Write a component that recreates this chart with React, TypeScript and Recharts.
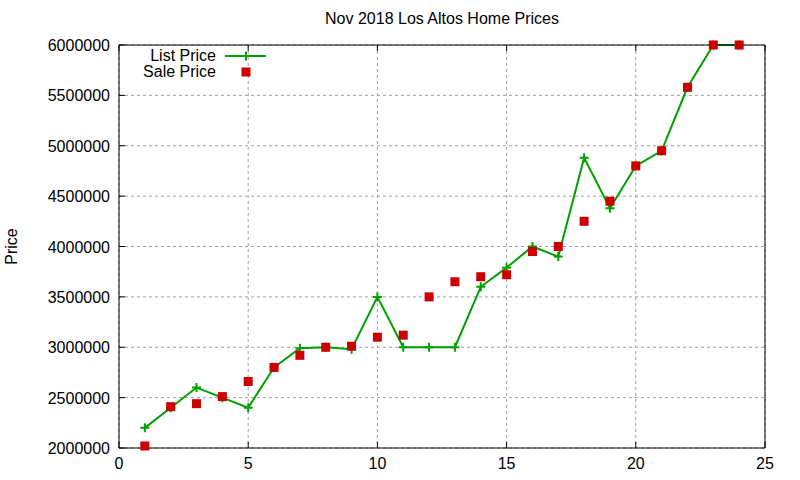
import React from "react";
import { ComposedChart, Line, XAxis, YAxis, CartesianGrid, Legend } from "recharts";

const days = [1, 2, 3, 4, 5, 6, 7, 8, 9, 10, 11, 12, 13, 14, 15, 16, 17, 18, 19, 20, 21, 22, 23, 24];
const listPrice = [
  2200000, 2400000, 2600000, 2500000, 2400000, 2800000, 2990000, 3000000, 2980000, 3500000, 3000000, 3000000,
  3000000, 3600000, 3790000, 4000000, 3900000, 4880000, 4380000, 4800000, 4950000, 5580000, 6000000, 6000000,
];
const salePrice = [
  2020000, 2410000, 2440000, 2510000, 2660000, 2800000, 2920000, 3000000, 3010000, 3100000, 3120000, 3500000,
  3650000, 3700000, 3720000, 3950000, 4000000, 4250000, 4450000, 4800000, 4950000, 5580000, 6000000, 6000000,
];
const xTicks = [0, 5, 10, 15, 20, 25];
const yTicks = [2000000, 2500000, 3000000, 3500000, 4000000, 4500000, 5000000, 5500000, 6000000];

const data = days.map((d, i) => ({ day: d, list: listPrice[i], sale: salePrice[i] }));

const GREEN = "#00a000";
const RED = "#cc0000";
const FONT = "'Liberation Sans', Arial, sans-serif";
const TICK_IN = 6;

function PlusDot(props: any) {
  const { cx, cy } = props;
  if (cx == null || cy == null) return null;
  return (
    <path d={`M${cx - 4.5},${cy}H${cx + 4.5}M${cx},${cy - 4.5}V${cy + 4.5}`} stroke={GREEN} strokeWidth={2} fill="none" />
  );
}

function SquareDot(props: any) {
  const { cx, cy } = props;
  if (cx == null || cy == null) return null;
  return <rect x={cx - 4.5} y={cy - 4.5} width={9} height={9} fill={RED} />;
}

function LeftTick(props: any) {
  const { x, y, payload } = props;
  return (
    <g>
      <line x1={x + 9} x2={x + 9 + TICK_IN} y1={y} y2={y} stroke="#000" />
      <text x={x} y={y} dy={6} textAnchor="end" fontSize={16} fill="#000" fontFamily={FONT}>
        {payload.value}
      </text>
    </g>
  );
}

function BottomTick(props: any) {
  const { x, y, payload } = props;
  return (
    <g>
      <line x1={x} x2={x} y1={y - 7} y2={y - 7 - TICK_IN} stroke="#000" />
      <text x={x} y={y} dy={14} textAnchor="middle" fontSize={16} fill="#000" fontFamily={FONT}>
        {payload.value}
      </text>
    </g>
  );
}

function LegendBox() {
  return (
    <svg width={160} height={38} style={{ display: "block" }}>
      <text x={96} y={14} textAnchor="end" fontSize={16} fontFamily={FONT} fill="#000">List Price</text>
      <line x1={105} x2={146} y1={9} y2={9} stroke={GREEN} strokeWidth={2} />
      <path d="M121.5,9H130.5M126,4.5V13.5" stroke={GREEN} strokeWidth={2} />
      <text x={96} y={30} textAnchor="end" fontSize={16} fontFamily={FONT} fill="#000">Sale Price</text>
      <rect x={121.5} y={20.5} width={9} height={9} fill={RED} />
    </svg>
  );
}

export default function App() {
  return (
    <div style={{ position: "relative", width: 800, height: 480, background: "#fff", fontFamily: FONT }}>
      <style>{`body{margin:0}`}</style>
      <div
        style={{
          position: "absolute",
          left: 119,
          width: 646,
          top: 10,
          textAlign: "center",
          fontSize: 16,
          color: "#000",
        }}
      >
        Nov 2018 Los Altos Home Prices
      </div>
      <ComposedChart width={800} height={480} data={data} margin={{ top: 45, right: 35, bottom: 0, left: 0 }}>
        <CartesianGrid xAxisId="b" yAxisId="l" stroke="#a0a0a0" strokeDasharray="3 3" />
        <XAxis
          xAxisId="b"
          dataKey="day"
          type="number"
          domain={[0, 25]}
          ticks={xTicks}
          tickLine={false}
          tickSize={0}
          tickMargin={7}
          height={32}
          axisLine={{ stroke: "#000" }}
          tick={<BottomTick />}
          interval={0}
        />
        <XAxis
          xAxisId="t"
          dataKey="day"
          type="number"
          orientation="top"
          mirror
          domain={[0, 25]}
          ticks={xTicks}
          tickSize={TICK_IN}
          tickFormatter={() => ""}
          axisLine={{ stroke: "#000" }}
          tickLine={{ stroke: "#000" }}
          interval={0}
        />
        <YAxis
          yAxisId="l"
          type="number"
          domain={[2000000, 6000000]}
          ticks={yTicks}
          width={119}
          tickLine={false}
          tickSize={0}
          tickMargin={9}
          axisLine={{ stroke: "#000" }}
          tick={<LeftTick />}
          interval={0}
          label={{
            value: "Price",
            angle: -90,
            position: "insideLeft",
            offset: 11,
            textAnchor: "middle",
            fontSize: 16,
            fill: "#000",
            fontFamily: FONT,
          }}
        />
        <YAxis
          yAxisId="r"
          type="number"
          orientation="right"
          mirror
          domain={[2000000, 6000000]}
          ticks={yTicks}
          tickSize={TICK_IN}
          tickFormatter={() => ""}
          axisLine={{ stroke: "#000" }}
          tickLine={{ stroke: "#000" }}
          interval={0}
        />
        <Legend
          content={() => <LegendBox />}
          layout="horizontal"
          align="center"
          verticalAlign="middle"
          wrapperStyle={{ top: 47, left: 120, width: 160 }}
        />
        <Line
          xAxisId="b"
          yAxisId="l"
          dataKey="list"
          name="List Price"
          stroke={GREEN}
          strokeWidth={2}
          dot={<PlusDot />}
          activeDot={false}
          isAnimationActive={false}
        />
        <Line
          xAxisId="b"
          yAxisId="l"
          dataKey="sale"
          name="Sale Price"
          stroke="none"
          dot={<SquareDot />}
          activeDot={false}
          isAnimationActive={false}
        />
      </ComposedChart>
    </div>
  );
}
